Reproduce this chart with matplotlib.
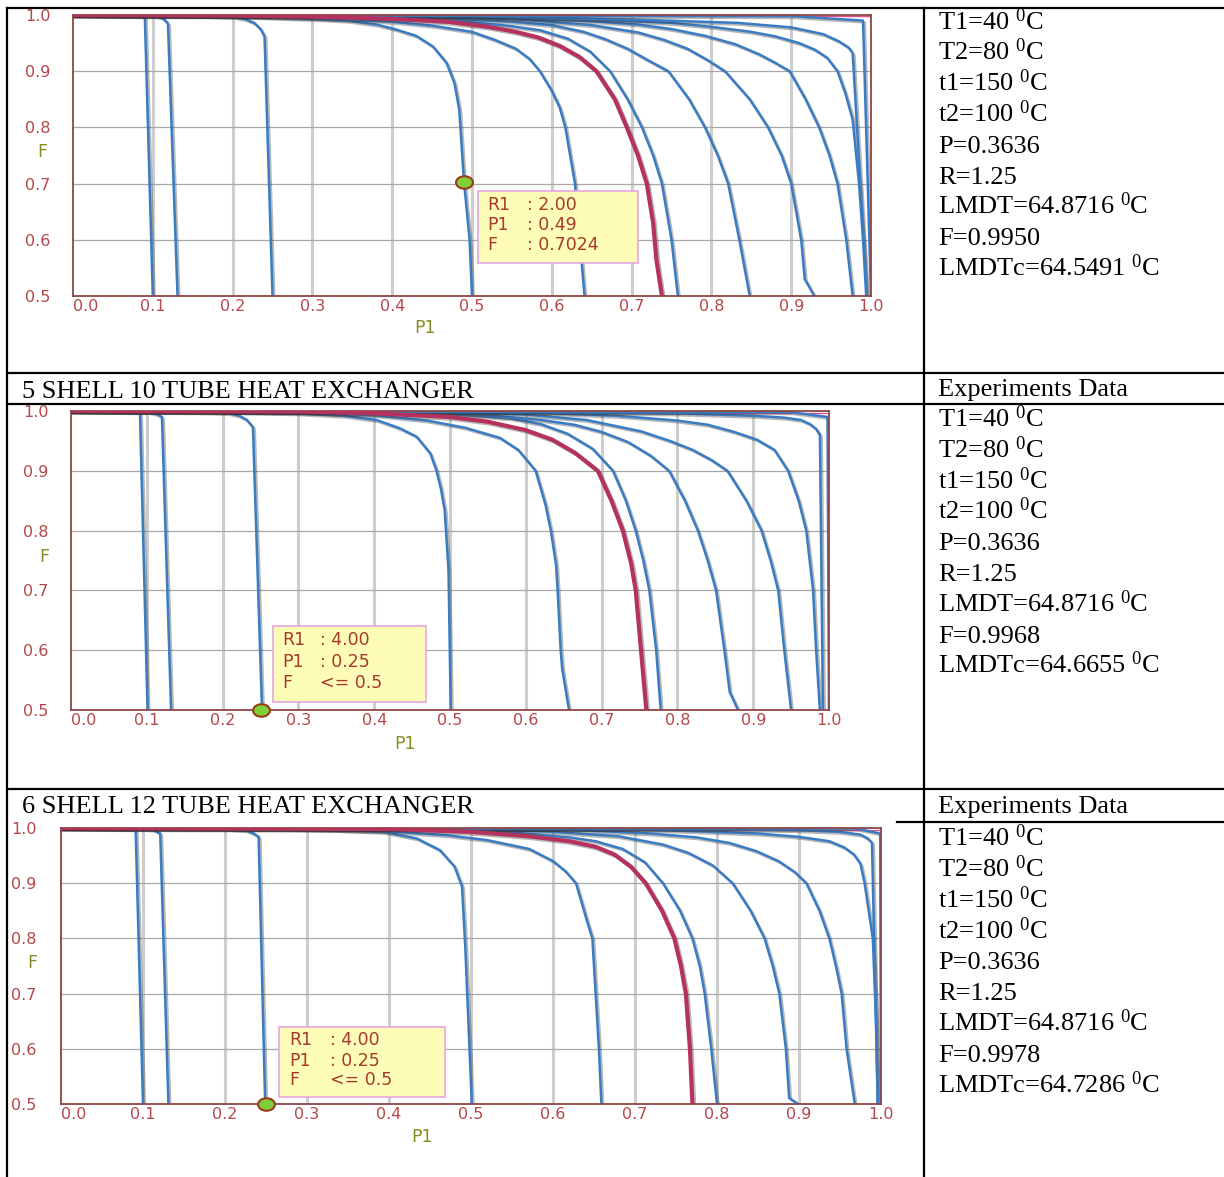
import matplotlib
matplotlib.use("Agg")
import matplotlib.pyplot as plt
import matplotlib.patheffects as pe
from matplotlib.markers import MarkerStyle
from matplotlib.transforms import Affine2D
from matplotlib.patches import Rectangle

W, H = 1224, 1177

plt.rcParams['mathtext.fontset'] = 'custom'
plt.rcParams['mathtext.rm'] = 'Liberation Serif'
plt.rcParams['mathtext.it'] = 'Liberation Serif:italic'
plt.rcParams['mathtext.bf'] = 'Liberation Serif:bold'

# ---------------- data ----------------
x_ticks = [0.0, 0.1, 0.2, 0.3, 0.4, 0.5, 0.6, 0.7, 0.8, 0.9, 1.0]
y_ticks = [0.5, 0.6, 0.7, 0.8, 0.9, 1.0]

# top panel: one list per curve, left to right
sh3_P = [
    [0, 0.09, 0.10],
    [0, 0.10, 0.11, 0.116, 0.119, 0.131],
    [0, 0.15, 0.20, 0.215, 0.227, 0.235, 0.24, 0.25],
    [0, 0.2, 0.3, 0.344, 0.38, 0.403, 0.43, 0.451, 0.468, 0.478, 0.484, 0.49, 0.497, 0.5],
    [0, 0.2, 0.3, 0.4, 0.45, 0.5, 0.53, 0.555, 0.572, 0.585, 0.60, 0.61, 0.617, 0.629, 0.635, 0.641],
    [0, 0.2, 0.3, 0.4, 0.47, 0.52, 0.555, 0.583, 0.61, 0.635, 0.656, 0.679, 0.694, 0.708, 0.719, 0.727,
     0.731, 0.738],
    [0, 0.3, 0.4, 0.5, 0.55, 0.585, 0.62, 0.648, 0.673, 0.695, 0.713, 0.727, 0.738, 0.75, 0.758],
    [0, 0.3, 0.45, 0.55, 0.6, 0.64, 0.667, 0.695, 0.72, 0.746, 0.772, 0.792, 0.808, 0.821, 0.835, 0.848],
    [0, 0.4, 0.55, 0.65, 0.708, 0.74, 0.77, 0.795, 0.817, 0.848, 0.871, 0.888, 0.90, 0.9125, 0.917, 0.929],
    [0, 0.5, 0.65, 0.708, 0.75, 0.792, 0.83, 0.86, 0.88, 0.898, 0.918, 0.935, 0.948, 0.958, 0.969, 0.977],
    [0, 0.5, 0.65, 0.75, 0.8, 0.85, 0.88, 0.91, 0.93, 0.945, 0.958, 0.968, 0.977, 0.985, 0.99, 0.994],
    [0, 0.5, 0.7, 0.833, 0.9, 0.94, 0.96, 0.972, 0.977, 0.995],
    [0, 0.9, 0.99, 1.0],
]
sh3_F = [
    [1.0, 0.998, 0.5],
    [1.0, 0.999, 0.996, 0.99, 0.984, 0.5],
    [1.0, 0.999, 0.997, 0.993, 0.986, 0.975, 0.962, 0.5],
    [1.0, 0.998, 0.993, 0.99, 0.983, 0.975, 0.963, 0.944, 0.915, 0.879, 0.832, 0.7024, 0.6, 0.5],
    [1.0, 0.998, 0.995, 0.988, 0.981, 0.97, 0.955, 0.94, 0.922, 0.90, 0.865, 0.835, 0.80, 0.70, 0.60, 0.5],
    [1.0, 0.999, 0.997, 0.993, 0.988, 0.979, 0.97, 0.96, 0.945, 0.925, 0.90, 0.85, 0.80, 0.75, 0.70, 0.63,
     0.565, 0.5],
    [1.0, 0.998, 0.995, 0.987, 0.98, 0.973, 0.958, 0.935, 0.90, 0.85, 0.80, 0.75, 0.70, 0.60, 0.5],
    [1.0, 0.999, 0.995, 0.988, 0.982, 0.97, 0.957, 0.94, 0.92, 0.90, 0.85, 0.80, 0.75, 0.70, 0.60, 0.5],
    [1.0, 0.998, 0.993, 0.982, 0.969, 0.956, 0.94, 0.92, 0.90, 0.85, 0.80, 0.75, 0.70, 0.60, 0.53, 0.5],
    [1.0, 0.998, 0.989, 0.983, 0.975, 0.963, 0.948, 0.93, 0.915, 0.90, 0.85, 0.80, 0.75, 0.70, 0.60, 0.5],
    [1.0, 0.998, 0.992, 0.986, 0.979, 0.97, 0.962, 0.95, 0.938, 0.924, 0.90, 0.86, 0.814, 0.70, 0.60, 0.5],
    [1.0, 0.998, 0.992, 0.986, 0.978, 0.966, 0.953, 0.942, 0.932, 0.5],
    [1.0, 0.998, 0.99, 0.5],
]

# 5 shell / 10 tube
sh5_P = [
    [0, 0.091, 0.101],
    [0, 0.10, 0.113, 0.12, 0.132],
    [0, 0.15, 0.206, 0.222, 0.232, 0.24, 0.252],
    [0, 0.2, 0.302, 0.36, 0.403, 0.434, 0.456, 0.474, 0.482, 0.488, 0.493, 0.498, 0.501],
    [0, 0.3, 0.4, 0.47, 0.52, 0.566, 0.59, 0.613, 0.626, 0.633, 0.64, 0.642, 0.646, 0.648, 0.657],
    [0, 0.3, 0.4, 0.5, 0.55, 0.6, 0.635, 0.665, 0.695, 0.713, 0.728, 0.739, 0.745, 0.752, 0.759],
    [0, 0.4, 0.5, 0.579, 0.62, 0.655, 0.688, 0.715, 0.732, 0.745, 0.755, 0.763, 0.772, 0.778],
    [0, 0.45, 0.55, 0.62, 0.664, 0.70, 0.735, 0.765, 0.789, 0.81, 0.827, 0.84, 0.851, 0.862, 0.869, 0.88],
    [0, 0.5, 0.6, 0.68, 0.752, 0.79, 0.82, 0.845, 0.866, 0.891, 0.911, 0.923, 0.933, 0.941, 0.95],
    [0, 0.6, 0.72, 0.8, 0.84, 0.875, 0.905, 0.928, 0.946, 0.96, 0.97, 0.979, 0.983, 0.988],
    [0, 0.6, 0.8, 0.9, 0.94, 0.963, 0.975, 0.983, 0.988, 0.992],
    [0, 0.95, 0.998, 1.0],
]
sh5_F = [
    [1.0, 0.998, 0.5],
    [1.0, 0.999, 0.995, 0.99, 0.5],
    [1.0, 0.999, 0.997, 0.992, 0.985, 0.973, 0.5],
    [1.0, 0.999, 0.996, 0.992, 0.985, 0.971, 0.957, 0.929, 0.901, 0.87, 0.834, 0.734, 0.5],
    [1.0, 0.998, 0.993, 0.984, 0.972, 0.955, 0.935, 0.90, 0.843, 0.80, 0.742, 0.70, 0.60, 0.569, 0.5],
    [1.0, 0.999, 0.996, 0.99, 0.982, 0.968, 0.952, 0.93, 0.90, 0.85, 0.80, 0.745, 0.70, 0.60, 0.5],
    [1.0, 0.998, 0.995, 0.988, 0.978, 0.962, 0.937, 0.90, 0.85, 0.80, 0.75, 0.70, 0.60, 0.5],
    [1.0, 0.998, 0.993, 0.985, 0.977, 0.965, 0.948, 0.925, 0.90, 0.85, 0.80, 0.75, 0.70, 0.60, 0.53, 0.5],
    [1.0, 0.998, 0.994, 0.985, 0.966, 0.95, 0.935, 0.918, 0.90, 0.85, 0.80, 0.75, 0.70, 0.60, 0.5],
    [1.0, 0.998, 0.992, 0.984, 0.977, 0.965, 0.952, 0.935, 0.90, 0.85, 0.80, 0.70, 0.60, 0.5],
    [1.0, 0.998, 0.996, 0.992, 0.989, 0.985, 0.978, 0.97, 0.96, 0.5],
    [1.0, 0.998, 0.99, 0.5],
]

# 6 shell / 12 tube
sh6_P = [
    [0, 0.091, 0.10],
    [0, 0.10, 0.112, 0.121, 0.131],
    [0, 0.2, 0.225, 0.235, 0.241, 0.249],
    [0, 0.25, 0.33, 0.393, 0.434, 0.462, 0.48, 0.489, 0.493, 0.501],
    [0, 0.3, 0.4, 0.47, 0.52, 0.571, 0.6, 0.615, 0.628, 0.642, 0.648, 0.652, 0.656, 0.659],
    [0, 0.4, 0.5, 0.571, 0.62, 0.652, 0.675, 0.695, 0.713, 0.733, 0.748, 0.756, 0.762, 0.767, 0.77],
    [0, 0.45, 0.55, 0.62, 0.652, 0.685, 0.712, 0.734, 0.755, 0.77, 0.779, 0.785, 0.793, 0.80],
    [0, 0.5, 0.6, 0.68, 0.734, 0.765, 0.795, 0.819, 0.841, 0.858, 0.868, 0.876, 0.884, 0.888, 0.899],
    [0, 0.6, 0.72, 0.775, 0.815, 0.848, 0.875, 0.895, 0.909, 0.925, 0.937, 0.945, 0.952, 0.958, 0.968],
    [0, 0.7, 0.85, 0.9, 0.937, 0.955, 0.967, 0.975, 0.98, 0.99, 0.994, 0.996],
    [0, 0.8, 0.9, 0.95, 0.975, 0.984, 0.989, 0.996],
    [0, 0.97, 0.999, 1.0],
]
sh6_F = [
    [1.0, 0.998, 0.5],
    [1.0, 0.999, 0.997, 0.99, 0.5],
    [1.0, 0.999, 0.996, 0.99, 0.984, 0.5],
    [1.0, 0.999, 0.997, 0.993, 0.981, 0.96, 0.93, 0.894, 0.785, 0.5],
    [1.0, 0.998, 0.994, 0.987, 0.978, 0.962, 0.94, 0.922, 0.90, 0.829, 0.80, 0.70, 0.60, 0.5],
    [1.0, 0.998, 0.993, 0.985, 0.976, 0.966, 0.952, 0.93, 0.90, 0.85, 0.80, 0.75, 0.70, 0.60, 0.5],
    [1.0, 0.998, 0.992, 0.983, 0.976, 0.962, 0.938, 0.90, 0.85, 0.80, 0.75, 0.70, 0.60, 0.5],
    [1.0, 0.998, 0.993, 0.985, 0.97, 0.955, 0.932, 0.90, 0.85, 0.80, 0.75, 0.70, 0.60, 0.511, 0.5],
    [1.0, 0.998, 0.99, 0.983, 0.973, 0.958, 0.94, 0.92, 0.90, 0.85, 0.80, 0.75, 0.70, 0.60, 0.5],
    [1.0, 0.998, 0.99, 0.984, 0.976, 0.965, 0.952, 0.935, 0.90, 0.80, 0.65, 0.5],
    [1.0, 0.998, 0.996, 0.993, 0.988, 0.981, 0.973, 0.5],
    [1.0, 0.999, 0.99, 0.5],
]

hot_curve = 5            # index of the highlighted (red) curve in each panel
top_line_F = [0.998, 0.997, 0.997]

# tooltip contents and hovered point
tip_R = ["2.00", "4.00", "4.00"]
tip_P = ["0.49", "0.25", "0.25"]
tip_F = [": 0.7024", "<= 0.5", "<= 0.5"]
mark_P = [0.49, 0.25, 0.25]
mark_F = [0.7024, 0.5, 0.5]

# table text
headers = ["", "5 SHELL 10 TUBE HEAT EXCHANGER", "6 SHELL 12 TUBE HEAT EXCHANGER"]
exp_F = ["0.9950", "0.9968", "0.9978"]
exp_LMDTc = ["64.5491", "64.6655", "64.7286"]

# ---------------- layout (pixels) ----------------
panel_px = [(73, 15, 871, 296), (71, 411, 829, 710), (61, 828, 881, 1104)]
ylab_pad = [16, 16, 17.5]
F_lab = [(42, 152), (44, 557), (32, 963)]
P_lab = [(425, 328), (405, 744), (422, 1137)]
tip_box = [(478, 191, 638, 263), (273, 626, 426, 702), (279, 1027, 445, 1097)]
tip_x = [(487, 527), (282, 320), (289, 330)]
tip_y = [(205, 225, 245), (640, 662, 683), (1040, 1061, 1080)]
base_y = [29.5, 427, 846]
expdata_y = [None, 396, 813]
header_y = [None, 398, 813]

fig = plt.figure(figsize=(W / 100, H / 100), dpi=100)


def fx(x):
    return x / W


def fy(y):
    return 1 - y / H


def ftext(x, y, s, **kw):
    fig.text(fx(x), fy(y), s, **kw)


def hline(y, x0, x1, lw=1.6):
    fig.add_artist(plt.Line2D([fx(x0), fx(x1)], [fy(y), fy(y)], color='black', lw=lw))


def vline(x, y0, y1, lw=1.6):
    fig.add_artist(plt.Line2D([fx(x), fx(x)], [fy(y0), fy(y1)], color='black', lw=lw))


blue = '#3a7cc4'
crimson = '#b5325e'
tick_col = '#b5474a'
olive = '#8a8a22'
shadow = [pe.SimpleLineShadow(offset=(1.3, -1.3), shadow_color='#333333', alpha=0.35), pe.Normal()]

all_P = [sh3_P, sh5_P, sh6_P]
all_F = [sh3_F, sh5_F, sh6_F]

for k in range(3):
    l, t, r, b = panel_px[k]
    ax = fig.add_axes([fx(l), fy(b), (r - l) / W, (b - t) / H])
    ax.set_xlim(0, 1)
    ax.set_ylim(0.5, 1.0)

    for xv in x_ticks[1:-1]:
        ax.axvline(xv, color='#cdcdcd', lw=2.2, zorder=0)
    for yv in y_ticks[1:-1]:
        ax.axhline(yv, color='#a8a8a8', lw=0.9, zorder=0)

    ax.plot([0, 1], [top_line_F[k]] * 2, color='#e0508a', lw=1.0, zorder=1)

    for i, (ps, fs) in enumerate(zip(all_P[k], all_F[k])):
        if i == hot_curve:
            continue
        ax.plot(ps, fs, color=blue, lw=1.8, zorder=2, path_effects=shadow, solid_joinstyle='round')
    ax.plot(all_P[k][hot_curve], all_F[k][hot_curve], color=crimson, lw=3.0, zorder=3,
            path_effects=shadow, solid_joinstyle='round')

    ell = MarkerStyle('o', transform=Affine2D().scale(1.35, 1.0))
    ax.plot([mark_P[k]], [mark_F[k]], marker=ell, ms=9, mfc='#7fcf3a', mec='#9a3a1a',
            mew=1.5, ls='none', zorder=6, clip_on=False)

    for s in ax.spines.values():
        s.set_color('#8b4545')
        s.set_linewidth(1.3)

    ax.set_xticks(x_ticks, labels=['%.1f' % v for v in x_ticks])
    ax.set_yticks(y_ticks, labels=['%.1f' % v for v in y_ticks])
    ax.tick_params(axis='both', length=0, labelcolor=tick_col, labelsize=11.5)
    ax.tick_params(axis='x', pad=2.5)
    ax.tick_params(axis='y', pad=ylab_pad[k])
    ax.get_xticklabels()[0].set_horizontalalignment('left')

    ftext(F_lab[k][0], F_lab[k][1], 'F', color=olive, fontsize=12.5, ha='center', va='center')
    ftext(P_lab[k][0], P_lab[k][1], 'P1', color=olive, fontsize=12.5, ha='center', va='center')

    bx0, by0, bx1, by1 = tip_box[k]
    fig.add_artist(Rectangle((fx(bx0), fy(by1)), (bx1 - bx0) / W, (by1 - by0) / H,
                             transform=fig.transFigure, facecolor='#fdfdb8',
                             edgecolor='#e6a6e0', lw=1.2, zorder=5))
    c0, c1 = tip_x[k]
    rows = [("R1", ": " + tip_R[k]), ("P1", ": " + tip_P[k]), ("F", tip_F[k])]
    for (lab, val), yy in zip(rows, tip_y[k]):
        ftext(c0, yy, lab, color='#a8382c', fontsize=12.5, va='center', zorder=6)
        ftext(c1, yy, val, color='#a8382c', fontsize=12.5, va='center', zorder=6)

# ---------------- table frame and text ----------------
hline(8, 7, W)
hline(373, 7, W)
hline(404, 7, W)
hline(789, 7, W)
hline(822, 897, W)
vline(7, 8, H)
vline(924, 8, H)

serif = dict(family='Liberation Serif', fontsize=19, va='baseline', color='black')
for k in range(3):
    if header_y[k] is not None:
        ftext(22, header_y[k], headers[k], **serif)
        ftext(938, expdata_y[k], "Experiments Data", **serif)
    lines = ["T1=40 $^{0}$C", "T2=80 $^{0}$C", "t1=150 $^{0}$C", "t2=100 $^{0}$C",
             "P=0.3636", "R=1.25", "LMDT=64.8716 $^{0}$C", "F=" + exp_F[k],
             "LMDTc=" + exp_LMDTc[k] + " $^{0}$C"]
    for i, s in enumerate(lines):
        ftext(938, base_y[k] + 30.8 * i, s, **serif)

fig.savefig('out.png', dpi=100)
